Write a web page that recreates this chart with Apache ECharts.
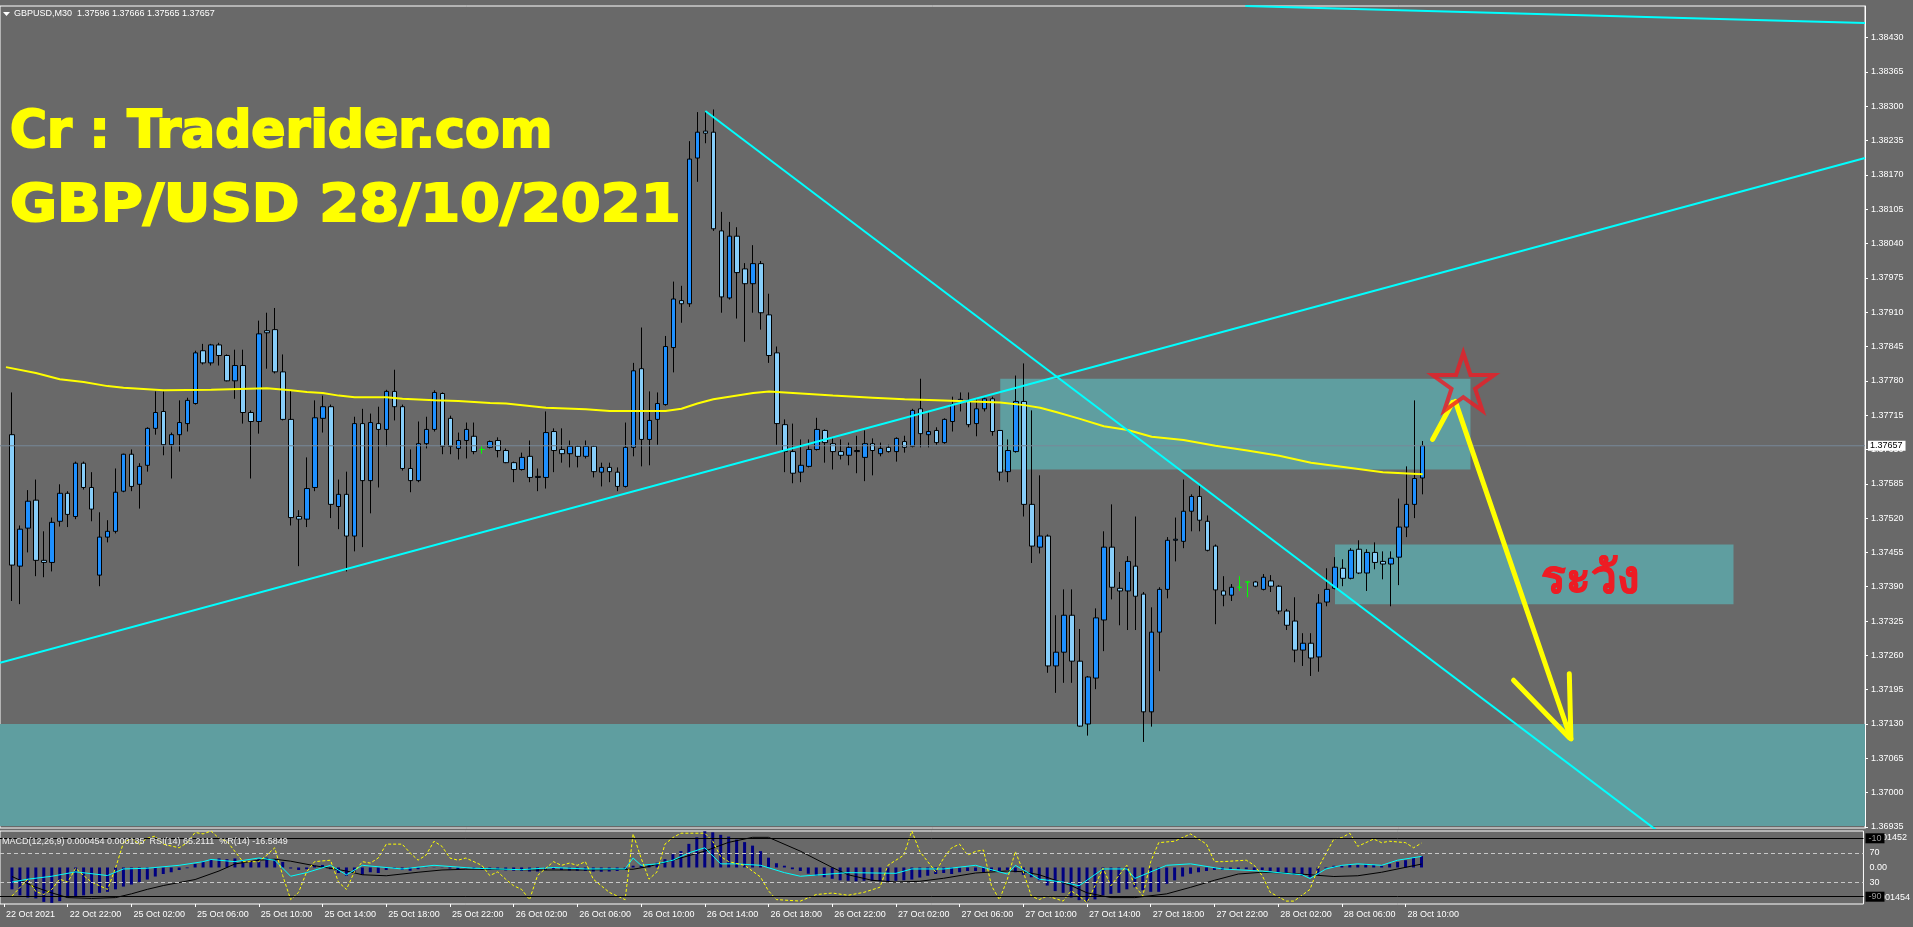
<!DOCTYPE html>
<html><head><meta charset="utf-8">
<script src="https://cdn.jsdelivr.net/npm/echarts@6/dist/echarts.min.js"></script>
<style>html,body{margin:0;padding:0;background:#696969;overflow:hidden}#c{width:1913px;height:927px}</style>
</head><body><div id="c"></div>
<script>
// ---------- DATA (GBPUSD M30, bars from 22 Oct 18:30 to 28 Oct 11:00) ----------
const symbolTitle = 'GBPUSD,M30';
const open = [1.37678,1.37429,1.37501,1.37554,1.37440,1.37436,1.37514,1.37567,1.37523,1.37624,
1.37578,1.37412,1.37484,1.37495,1.37571,1.37641,1.37584,1.37620,1.37690,1.37722,
1.37659,1.37678,1.37699,1.37737,1.37837,1.37814,1.37848,1.37828,1.37780,1.37809,
1.37720,1.37703,1.37875,1.37877,1.37797,1.37707,1.37523,1.37518,1.37578,1.37709,
1.37731,1.37542,1.37565,1.37486,1.37699,1.37591,1.37699,1.37688,1.37760,1.37731,
1.37614,1.37591,1.37661,1.37688,1.37756,1.37709,1.37652,1.37667,1.37675,1.37650,
1.37654,1.37667,1.37648,1.37625,1.37612,1.37637,1.37597,1.37597,1.37684,1.37650,
1.37642,1.37656,1.37637,1.37656,1.37607,1.37616,1.37607,1.37580,1.37654,1.37803,
1.37669,1.37707,1.37735,1.37843,1.37932,1.37926,1.38202,1.38253,1.38251,1.38064,
1.37937,1.38054,1.37992,1.37964,1.38002,1.37905,1.37833,1.37697,1.37646,1.37607,
1.37618,1.37650,1.37686,1.37661,1.37646,1.37639,1.37646,1.37635,1.37661,1.37642,
1.37654,1.37646,1.37665,1.37656,1.37727,1.37678,1.37686,1.37663,1.37703,1.37741,
1.37743,1.37699,1.37727,1.37746,1.37686,1.37608,1.37646,1.37741,1.37546,1.37465,
1.37486,1.37240,1.37266,1.37336,1.37249,1.37130,1.37217,1.37327,1.37465,1.37387,
1.37382,1.37429,1.37376,1.37153,1.37304,1.37385,1.37478,1.37476,1.37533,1.37561,
1.37514,1.37467,1.37382,1.37374,1.37389,1.37399,1.37399,1.37385,1.37401,1.37391,
1.37344,1.37325,1.37270,1.37283,1.37257,1.37361,1.37387,1.37425,1.37406,1.37461,
1.37416,1.37455,1.37438,1.37433,1.37446,1.37503,1.37546,1.37596];
const high = [1.37758,1.37506,1.37573,1.37593,1.37495,1.37521,1.37584,1.37571,1.37627,1.37627,
1.37607,1.37531,1.37516,1.37614,1.37642,1.37650,1.37624,1.37692,1.37760,1.37760,
1.37682,1.37743,1.37748,1.37837,1.37850,1.37850,1.37852,1.37830,1.37839,1.37839,
1.37724,1.37894,1.37909,1.37918,1.37830,1.37762,1.37535,1.37635,1.37743,1.37752,
1.37735,1.37593,1.37608,1.37712,1.37727,1.37718,1.37731,1.37763,1.37801,1.37735,
1.37650,1.37703,1.37712,1.37762,1.37758,1.37714,1.37682,1.37701,1.37701,1.37656,
1.37667,1.37673,1.37652,1.37627,1.37644,1.37667,1.37614,1.37722,1.37690,1.37690,
1.37667,1.37658,1.37667,1.37658,1.37625,1.37625,1.37616,1.37701,1.37814,1.37881,
1.37760,1.37758,1.37865,1.37968,1.37960,1.38234,1.38289,1.38289,1.38294,1.38100,
1.38081,1.38071,1.38003,1.38037,1.38007,1.37945,1.37845,1.37707,1.37699,1.37669,
1.37669,1.37710,1.37688,1.37673,1.37669,1.37663,1.37676,1.37686,1.37671,1.37663,
1.37659,1.37673,1.37676,1.37727,1.37784,1.37720,1.37692,1.37709,1.37750,1.37758,
1.37758,1.37745,1.37748,1.37750,1.37686,1.37669,1.37790,1.37813,1.37724,1.37601,
1.37489,1.37336,1.37385,1.37385,1.37310,1.37221,1.37349,1.37495,1.37546,1.37418,
1.37448,1.37523,1.37380,1.37351,1.37389,1.37484,1.37521,1.37593,1.37565,1.37584,
1.37525,1.37470,1.37410,1.37395,1.37410,1.37399,1.37401,1.37414,1.37412,1.37393,
1.37348,1.37370,1.37302,1.37302,1.37376,1.37425,1.37446,1.37442,1.37463,1.37478,
1.37461,1.37474,1.37457,1.37457,1.37557,1.37618,1.37743,1.37666];
const low = [1.37363,1.37357,1.37455,1.37410,1.37408,1.37419,1.37504,1.37503,1.37518,1.37574,
1.37514,1.37391,1.37474,1.37491,1.37569,1.37571,1.37538,1.37608,1.37678,1.37639,
1.37595,1.37646,1.37684,1.37735,1.37811,1.37809,1.37809,1.37779,1.37746,1.37699,
1.37595,1.37680,1.37803,1.37794,1.37705,1.37506,1.37429,1.37503,1.37571,1.37682,
1.37520,1.37499,1.37419,1.37457,1.37465,1.37529,1.37578,1.37656,1.37705,1.37610,
1.37569,1.37588,1.37652,1.37684,1.37641,1.37641,1.37631,1.37633,1.37641,1.37642,
1.37652,1.37635,1.37624,1.37588,1.37610,1.37588,1.37571,1.37576,1.37607,1.37625,
1.37616,1.37616,1.37633,1.37597,1.37580,1.37588,1.37571,1.37578,1.37637,1.37618,
1.37620,1.37659,1.37733,1.37796,1.37890,1.37920,1.38157,1.38230,1.38064,1.37909,
1.37934,1.37898,1.37854,1.37909,1.37877,1.37814,1.37659,1.37607,1.37586,1.37588,
1.37616,1.37648,1.37625,1.37612,1.37631,1.37620,1.37605,1.37590,1.37601,1.37637,
1.37644,1.37627,1.37644,1.37654,1.37654,1.37654,1.37659,1.37661,1.37684,1.37722,
1.37692,1.37675,1.37722,1.37676,1.37591,1.37588,1.37644,1.37523,1.37435,1.37453,
1.37227,1.37189,1.37208,1.37208,1.37125,1.37108,1.37196,1.37268,1.37366,1.37317,
1.37308,1.37308,1.37096,1.37125,1.37230,1.37368,1.37438,1.37463,1.37495,1.37495,
1.37457,1.37319,1.37353,1.37363,1.37382,1.37370,1.37389,1.37383,1.37380,1.37338,
1.37308,1.37247,1.37240,1.37221,1.37229,1.37353,1.37385,1.37391,1.37404,1.37414,
1.37382,1.37423,1.37404,1.37353,1.37393,1.37484,1.37520,1.37565];
const close = [1.37431,1.37499,1.37552,1.37440,1.37436,1.37512,1.37567,1.37527,1.37624,1.37578,
1.37537,1.37484,1.37495,1.37569,1.37641,1.37580,1.37618,1.37690,1.37720,1.37659,
1.37678,1.37701,1.37743,1.37833,1.37814,1.37848,1.37828,1.37780,1.37809,1.37720,
1.37703,1.37869,1.37871,1.37797,1.37707,1.37521,1.37518,1.37576,1.37710,1.37731,
1.37546,1.37565,1.37486,1.37699,1.37591,1.37701,1.37688,1.37760,1.37731,1.37614,
1.37591,1.37661,1.37688,1.37758,1.37656,1.37656,1.37667,1.37688,1.37646,1.37650,
1.37665,1.37648,1.37625,1.37612,1.37635,1.37597,1.37599,1.37682,1.37648,1.37642,
1.37656,1.37637,1.37656,1.37608,1.37616,1.37608,1.37580,1.37654,1.37799,1.37669,
1.37705,1.37737,1.37845,1.37935,1.37926,1.38200,1.38251,1.38249,1.38068,1.37939,
1.38054,1.37985,1.37964,1.38002,1.37909,1.37828,1.37699,1.37646,1.37605,1.37620,
1.37650,1.37688,1.37663,1.37646,1.37639,1.37654,1.37648,1.37661,1.37648,1.37652,
1.37646,1.37671,1.37654,1.37724,1.37680,1.37684,1.37663,1.37707,1.37735,1.37745,
1.37697,1.37727,1.37746,1.37684,1.37607,1.37648,1.37741,1.37546,1.37467,1.37486,
1.37240,1.37266,1.37336,1.37249,1.37126,1.37219,1.37331,1.37465,1.37389,1.37382,
1.37438,1.37372,1.37153,1.37304,1.37385,1.37478,1.37480,1.37533,1.37561,1.37516,
1.37459,1.37384,1.37374,1.37389,1.37389,1.37399,1.37391,1.37408,1.37391,1.37344,
1.37317,1.37270,1.37283,1.37255,1.37359,1.37385,1.37427,1.37406,1.37459,1.37416,
1.37455,1.37436,1.37433,1.37444,1.37503,1.37546,1.37595,1.37657];

// moving average (yellow) read as [bar, price]
const maPts = [[-0.75,1.37806],[3,1.37795],[6,1.37783],[9,1.37778],[12,1.37770],[14,1.37767],[19,1.37762],[25,1.37763],[32,1.37766],[35,1.37762],[37,1.37759],[39,1.37757],[41,1.37752],[43,1.37749],[47,1.37749],[49,1.37746],[53,1.37743],[56,1.37742],[60,1.37738],[62,1.37737],[67,1.37729],[72,1.37726],[75,1.37723],[82,1.37723],[84,1.37727],[86,1.37737],[88,1.37745],[90,1.37750],[93,1.37757],[95,1.37760],[99,1.37756],[103,1.37752],[108,1.37748],[112,1.37745],[116,1.37743],[124,1.37739],[127,1.37734],[129,1.37729],[131,1.37721],[134,1.37708],[137,1.37694],[140,1.37687],[143,1.37674],[147,1.37668],[151,1.37657],[155,1.37648],[159,1.37638],[163,1.37625],[168,1.37615],[172,1.37607],[177,1.37603]];

// price-axis tick labels
const priceTicks = [1.36935,1.37000,1.37065,1.37130,1.37195,1.37260,1.37325,1.37390,1.37455,1.37520,1.37585,1.37650,1.37715,1.37780,1.37845,1.37910,1.37975,1.38040,1.38105,1.38170,1.38235,1.38300,1.38365,1.38430];
// time-axis tick labels and the bar each one sits on
const timeLabels = ['22 Oct 2021','22 Oct 22:00','25 Oct 02:00','25 Oct 06:00','25 Oct 10:00','25 Oct 14:00','25 Oct 18:00','25 Oct 22:00','26 Oct 02:00','26 Oct 06:00','26 Oct 10:00','26 Oct 14:00','26 Oct 18:00','26 Oct 22:00','27 Oct 02:00','27 Oct 06:00','27 Oct 10:00','27 Oct 14:00','27 Oct 18:00','27 Oct 22:00','28 Oct 02:00','28 Oct 06:00','28 Oct 10:00'];
const timeLabelBars = [-1,7,15,23,31,39,47,55,63,71,79,87,95,103,111,119,127,135,143,151,159,167,175];

// drawn objects: [bar, price]
const zones = [ [[124,1.37784],[183,1.37612]], [[166,1.37470],[216,1.37357]] ];
const bottomZone = [1.37130, 1.36937];
const trendLines = [ [[-1.5,1.37246],[232.5,1.38202]], [[87,1.38291],[210,1.36887]], [[154.75,1.38490],[232.5,1.38458]] ];
const arrowSegs = [ [[178.25,1.37669],[180.75,1.37739]], [[181.1,1.37741],[195.6,1.37102]], [[188.4,1.37213],[195.4,1.37104]], [[195.4,1.37225],[195.6,1.37102]] ];
const starPt = [182.1, 1.37778];
const bidPrice = 1.37657;

// indicator window
const macdHist = [-0.00087,-0.00111,-0.00120,-0.00123,-0.00137,-0.00141,-0.00134,-0.00120,-0.00117,-0.00111,
-0.00105,-0.00101,-0.00097,-0.00087,-0.00076,-0.00068,-0.00058,-0.00048,-0.00036,-0.00026,
-0.00019,-0.00010,-0.00003,0.00014,0.00025,0.00033,0.00036,0.00033,0.00036,0.00029,
0.00022,0.00033,0.00039,0.00033,0.00022,-0.00004,-0.00010,-0.00007,0.00007,0.00010,
-0.00007,-0.00022,-0.00033,-0.00019,-0.00029,-0.00019,-0.00022,-0.00010,-0.00004,-0.00010,
-0.00013,-0.00007,-0.00001,0.00001,-0.00001,-0.00004,-0.00007,-0.00003,-0.00006,-0.00009,
-0.00010,-0.00010,-0.00012,-0.00013,-0.00014,-0.00016,-0.00016,-0.00010,-0.00007,-0.00010,
-0.00012,-0.00013,-0.00014,-0.00016,-0.00017,-0.00016,-0.00014,-0.00007,0.00007,0.00007,
0.00010,0.00019,0.00033,0.00053,0.00065,0.00094,0.00120,0.00144,0.00140,0.00130,
0.00123,0.00111,0.00101,0.00087,0.00065,0.00039,0.00017,0.00007,-0.00007,-0.00014,
-0.00025,-0.00033,-0.00039,-0.00045,-0.00051,-0.00053,-0.00055,-0.00053,-0.00053,-0.00055,
-0.00055,-0.00053,-0.00051,-0.00048,-0.00040,-0.00033,-0.00026,-0.00022,-0.00026,-0.00019,
-0.00014,-0.00014,-0.00019,-0.00014,-0.00014,-0.00010,-0.00019,-0.00029,-0.00039,-0.00051,
-0.00072,-0.00094,-0.00101,-0.00120,-0.00130,-0.00137,-0.00127,-0.00111,-0.00105,-0.00101,
-0.00087,-0.00079,-0.00091,-0.00097,-0.00097,-0.00065,-0.00051,-0.00036,-0.00025,-0.00019,
-0.00014,-0.00010,-0.00010,-0.00010,-0.00007,-0.00007,-0.00010,-0.00010,-0.00014,-0.00019,
-0.00022,-0.00029,-0.00033,-0.00039,-0.00029,-0.00004,0.00007,0.00007,0.00014,0.00010,
0.00014,0.00010,0.00007,0.00014,0.00022,0.00029,0.00039,0.000454];
const macdSignalPts = [[0,-0.00036],[3,-0.00079],[5,-0.00101],[7,-0.00120],[10,-0.00123],[13,-0.00120],[15,-0.00105],[17,-0.00087],[19,-0.00072],[23,-0.00048],[26,-0.00014],[28,0.00014],[31,0.00029],[33,0.00033],[35,0.00025],[38,0.00007],[42,-0.00014],[44,-0.00029],[47,-0.00033],[51,-0.00019],[54,-0.00010],[57,-0.00007],[61,-0.00007],[66,-0.00010],[72,-0.00010],[78,-0.00007],[80,0.00004],[83,0.00029],[87,0.00065],[90,0.00100],[93,0.00120],[95,0.00120],[99,0.00065],[103,0],[105,-0.00029],[108,-0.00051],[111,-0.00058],[114,-0.00055],[117,-0.00043],[121,-0.00022],[125,-0.00014],[127,-0.00017],[129,-0.00029],[133,-0.00072],[135,-0.00101],[138,-0.00120],[141,-0.00120],[145,-0.00105],[148,-0.00079],[151,-0.00051],[154,-0.00026],[157,-0.00019],[160,-0.00022],[163,-0.00029],[166,-0.00036],[169,-0.00033],[172,-0.00019],[177,0.000135]];
const rsiPts = [[0,30],[2,34],[5,38],[8,44],[12,39],[14,48],[17,49],[21,53],[24,58],[25,61],[28,58],[31,63],[33,60],[35,38],[37,43],[40,53],[42,40],[44,53],[49,48],[53,53],[58,49],[64,47],[68,50],[72,48],[77,48],[78,63],[79,53],[81,55],[83,60],[85,70],[87,77],[89,55],[91,55],[94,53],[97,43],[99,38],[105,43],[111,42],[113,48],[117,48],[121,53],[125,41],[126,53],[129,34],[132,30],[134,25],[137,48],[140,48],[141,35],[145,53],[148,55],[152,48],[157,45],[162,40],[163,35],[165,48],[167,53],[169,55],[172,53],[174,60],[177,65.2111]];
const wprPts = [[0,-89],[2,-66],[3,-83],[4,-87],[5,-80],[6,-66],[7,-70],[8,-51],[9,-61],[10,-70],[12,-80],[13,-51],[14,-16],[15,-10],[16,-18],[17,-10],[18,-7],[19,-18],[21,-23],[22,-16],[23,-2],[24,-4],[25,0],[26,-10],[27,-14],[28,-28],[29,-42],[31,-42],[32,-33],[33,-23],[34,-61],[35,-94],[36,-84],[37,-56],[38,-42],[40,-40],[41,-70],[42,-80],[43,-56],[44,-42],[45,-44],[46,-37],[47,-18],[49,-18],[50,-30],[51,-40],[52,-33],[53,-14],[54,-21],[55,-37],[56,-40],[57,-37],[59,-47],[60,-61],[61,-56],[62,-66],[63,-75],[64,-80],[65,-94],[66,-61],[68,-42],[69,-47],[70,-44],[71,-47],[72,-42],[73,-66],[74,-75],[75,-84],[77,-94],[78,-4],[79,-37],[80,-66],[81,-56],[82,-18],[83,-9],[84,-3],[87,-3],[88,-14],[89,-35],[90,-42],[92,-47],[94,-63],[95,-82],[96,-94],[99,-96],[101,-87],[103,-85],[105,-88],[107,-84],[109,-77],[110,-47],[112,-33],[113,0],[114,-28],[115,-42],[116,-56],[117,-37],[118,-23],[119,-18],[120,-33],[121,-28],[122,-26],[123,-75],[124,-94],[125,-66],[126,-28],[127,-56],[128,-89],[129,-94],[130,-89],[132,-96],[133,-82],[134,-89],[135,-98],[136,-75],[137,-51],[138,-75],[140,-47],[141,-75],[142,-89],[143,-42],[144,-16],[146,-14],[148,-4],[150,-18],[151,-42],[152,-42],[155,-40],[156,-47],[157,-61],[158,-84],[160,-96],[161,-96],[163,-80],[164,-51],[166,-11],[167,-9],[168,-3],[169,-21],[171,-11],[172,-16],[173,-14],[175,-16],[176,-23],[177,-16.5849]];
const macdLast = 0.000454, signalLast = 0.000135, rsiLast = 65.2111, wprLast = -16.5849;
const macdMax = 0.001452, macdMin = -0.001454;

// ---------- CHART ----------
const NCAT = 234;               // category 0 = partially hidden bar, 1..178 = bars, rest = right margin
const cats = Array.from({length: NCAT}, (_, k) => String(k));
const candleData = ['-'].concat(open.map((o, i) => [o, close[i], low[i], high[i]]));
const histData = ['-'].concat(macdHist);
const tickMap = new Map(timeLabelBars.map((b, j) => [b + 1, timeLabels[j]]));
const last = open.length - 1;
const F = 'Liberation Sans';
const line = (pts, color, w, extra) => Object.assign({
  type: 'line', xAxisIndex: 1, yAxisIndex: 0, data: pts, symbol: 'none', silent: true,
  lineStyle: {color: color, width: w}, z: 4, animation: false
}, extra || {});

const series = [];
// zones (background)
series.push({
  type: 'line', xAxisIndex: 1, yAxisIndex: 0, data: [], z: 1, silent: true, animation: false,
  markArea: { silent: true, itemStyle: {color: '#5F9EA0', opacity: 1},
    data: zones.map(z => [{coord: z[0]}, {coord: z[1]}]).concat([[{yAxis: bottomZone[0]}, {yAxis: bottomZone[1]}]]) }
});
// bid line with price box
series.push(line([[-1.5, bidPrice], [NCAT - 1.5, bidPrice]], '#778899', 1, {z: 3, clip: false,
  endLabel: {show: true, formatter: bidPrice.toFixed(5), backgroundColor: '#fff', color: '#000', fontFamily: F, fontSize: 9, padding: [1, 3, 0, 2], distance: 3}}));
// candles
series.push({
  type: 'candlestick', xAxisIndex: 0, yAxisIndex: 0, data: candleData, barWidth: 5, z: 2, animation: false,
  itemStyle: {color: '#1E90FF', color0: '#87CEFA', borderColor: '#000', borderColor0: '#000', borderColorDoji: '#00FF00', borderWidth: 1}
});
// MA
series.push(line(maPts, '#FFFF00', 2, {z: 3}));
// trend lines
trendLines.forEach(t => series.push(line(t, '#00FFFF', 2)));
// arrow
arrowSegs.forEach(s => series.push(line(s, '#FFFF00', 5, {z: 5, lineStyle: {color: '#FFFF00', width: 5, cap: 'round'}})));
// star
series.push({type: 'scatter', xAxisIndex: 1, yAxisIndex: 0, data: [starPt], z: 6, silent: true, animation: false,
  symbol: 'path://M50,0 L61.2,34.5 L97.6,34.5 L68.2,55.9 L79.4,90.5 L50,69.1 L20.6,90.5 L31.8,55.9 L2.4,34.5 L38.8,34.5 Z',
  symbolSize: [62, 58], itemStyle: {color: 'rgba(0,0,0,0)', borderColor: '#ED1C24', borderWidth: 4}});
// indicators
series.push({type: 'bar', xAxisIndex: 2, yAxisIndex: 1, data: histData, barWidth: 3, itemStyle: {color: '#000080'}, silent: true, animation: false, z: 2});
series.push({type: 'line', xAxisIndex: 3, yAxisIndex: 1, data: macdSignalPts, symbol: 'none', silent: true, animation: false, lineStyle: {color: '#000', width: 1}, z: 3});
series.push({type: 'line', xAxisIndex: 3, yAxisIndex: 2, data: rsiPts, symbol: 'none', silent: true, animation: false, lineStyle: {color: '#00FFFF', width: 1}, z: 4,
  markLine: {silent: true, symbol: 'none', animation: false, label: {show: false}, lineStyle: {color: '#C8C8C8', width: 1, type: [4, 3]}, data: [{yAxis: 70}, {yAxis: 30}]}});
series.push({type: 'line', xAxisIndex: 3, yAxisIndex: 3, data: wprPts, symbol: 'none', silent: true, animation: false, lineStyle: {color: '#FFFF00', width: 1, type: [3, 2]}, z: 4,
  markLine: {silent: true, symbol: 'none', animation: false, label: {show: false}, lineStyle: {color: '#000', width: 1, type: 'solid'}, data: [{yAxis: -10}, {yAxis: -90}]}});

const hiddenX = (grid) => ({type: 'value', gridIndex: grid, min: -1.5, max: NCAT - 1.5, show: false, axisLine: {onZero: false}});
const indY = (min, max, vals, fmt, extraLabel) => ({
  type: 'value', gridIndex: 1, position: 'right', min: min, max: max, splitLine: {show: false},
  axisLine: {show: false, onZero: false}, axisTick: {show: false},
  axisLabel: Object.assign({customValues: vals, formatter: fmt, color: '#fff', fontFamily: F, fontSize: 9, margin: 3}, extraLabel || {})
});

const option = {
  backgroundColor: '#696969',
  animation: false,
  grid: [
    {left: -6, right: 48, top: 6, height: 822, show: true, borderColor: '#fff', borderWidth: 1, backgroundColor: 'transparent'},
    {left: -6, right: 48, top: 831, height: 73, show: true, borderColor: '#fff', borderWidth: 1, backgroundColor: 'transparent'}
  ],
  xAxis: [
    {type: 'category', gridIndex: 0, data: cats, boundaryGap: true, show: false, axisLine: {onZero: false}},
    hiddenX(0),
    {type: 'category', gridIndex: 1, data: cats, boundaryGap: true, position: 'bottom',
      axisLine: {show: false, onZero: false},
      axisTick: {show: true, alignWithLabel: true, interval: (i) => tickMap.has(i), length: 3, lineStyle: {color: '#fff'}},
      axisLabel: {interval: (i) => tickMap.has(i), formatter: (v, i) => tickMap.get(i) || '', align: 'left', color: '#fff', fontFamily: F, fontSize: 9, margin: 6, padding: [0, 0, 0, 2]}},
    hiddenX(1)
  ],
  yAxis: [
    {type: 'value', gridIndex: 0, position: 'right', min: 1.36933, max: 1.38490, splitLine: {show: false},
      axisLine: {show: true, onZero: false, lineStyle: {color: '#fff'}},
      axisTick: {show: true, customValues: priceTicks, length: 3, lineStyle: {color: '#fff'}},
      axisLabel: {customValues: priceTicks, formatter: v => v.toFixed(5), color: '#fff', fontFamily: F, fontSize: 9, margin: 6}},
    indY(macdMin, macdMax, [macdMax, 0, macdMin], v => v > 0 ? '{t|' + v.toFixed(6) + '}' : (v < 0 ? '{b|' + v.toFixed(6) + '}' : '0.00'),
      {margin: 6, rich: {t: {padding: [13, 0, 0, 0], color: '#fff', fontFamily: F, fontSize: 9}, b: {padding: [0, 0, 12, 0], color: '#fff', fontFamily: F, fontSize: 9}}}),
    indY(0, 100, [70, 30], v => String(v), {margin: 6}),
    indY(-100, 0, [-10, -90], v => String(v), {margin: 2, backgroundColor: '#000', color: '#9a9a9a', padding: [1, 3, 0, 3]})
  ],
  series: series,
  graphic: [
    {type: 'polygon', shape: {points: [[3, 12], [10, 12], [6.5, 16]]}, style: {fill: '#fff'}, silent: true},
    {type: 'text', x: 14, y: 14, silent: true, style: {text: symbolTitle + '  ' + [open[last], high[last], low[last], close[last]].map(v => v.toFixed(5)).join(' '), fill: '#fff', font: '9px "Liberation Sans"', verticalAlign: 'middle'}},
    {type: 'text', x: 2, y: 842, silent: true, z: 10, style: {text: 'MACD(12,26,9) ' + macdLast.toFixed(6) + ' ' + signalLast.toFixed(6) + '  RSI(14) ' + rsiLast.toFixed(4) + '  %R(14) ' + wprLast.toFixed(4), fill: '#f0f0f0', font: '9px "Liberation Sans"', verticalAlign: 'middle'}},
    {type: 'text', x: 10, y: 134, scaleX: 0.99, silent: true, z: 10, style: {text: 'Cr : Traderider.com', fill: '#FFFF00', stroke: '#FFFF00', lineWidth: 2, font: 'bold 51px "DejaVu Sans"', verticalAlign: 'middle'}},
    {type: 'text', x: 10, y: 208, scaleX: 1.125, silent: true, z: 10, style: {text: 'GBP/USD 28/10/2021', fill: '#FFFF00', stroke: '#FFFF00', lineWidth: 2, font: 'bold 51px "DejaVu Sans"', verticalAlign: 'middle'}},
    {type: 'text', x: 1541, y: 580, silent: true, z: 10, style: {text: 'ระวัง', fill: '#ED1C24', stroke: '#ED1C24', lineWidth: 0.8, font: 'bold 46px sans-serif', verticalAlign: 'middle'}}
  ]
};
const chart = echarts.init(document.getElementById('c'), null, {renderer: 'canvas', width: 1913, height: 927});
chart.setOption(option);
</script></body></html>
